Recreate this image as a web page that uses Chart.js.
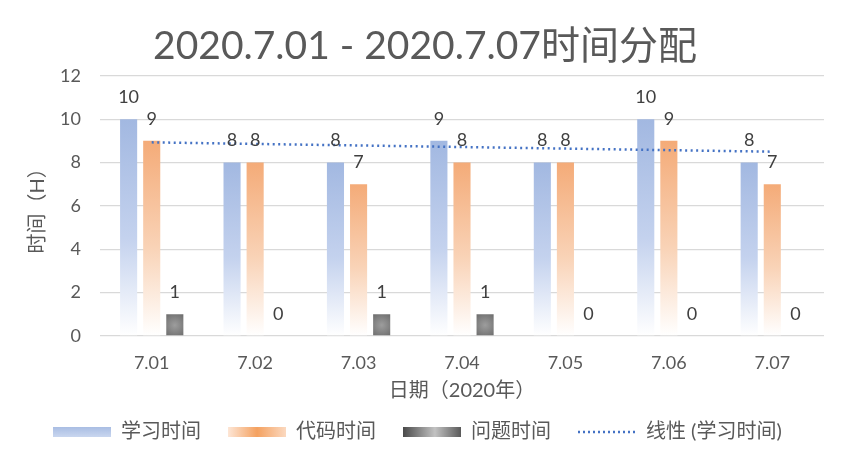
<!DOCTYPE html>
<html>
<head>
<meta charset="utf-8">
<title>2020.7.01 - 2020.7.07时间分配</title>
<script src="https://cdn.jsdelivr.net/npm/chart.js@4.4.1/dist/chart.umd.min.js"></script>
<style>
    html, body { margin: 0; padding: 0; background: #ffffff; }
    #wrap { width: 843px; height: 461px; }
</style>
</head>
<body>
<div id="wrap"><canvas id="timeChart"></canvas></div>
<script>
'use strict';

// data
const categories = ['7.01', '7.02', '7.03', '7.04', '7.05', '7.06', '7.07'];
const studyHours = [10, 8, 8, 9, 8, 10, 8];
const codeHours = [9, 8, 7, 8, 8, 9, 7];
const problemHours = [1, 0, 1, 1, 0, 0, 0];
// trend line end points as drawn (linear, 学习时间)
const studyTrend = [8.93, null, null, null, null, null, 8.5];
const yTicks = [0, 2, 4, 6, 8, 10, 12];

const FONT = "Lato, 'Noto Sans CJK SC', sans-serif";
const TEXT = '#595959';
const CAT_PCT = 0.67;
const BAR_PCT = 0.74;
const SWATCH_W = 58;
const SWATCH_GAP = 15;

/**
 * Vertical gradient running from the bar top down to the zero line
 */
function fadeToWhite(top, bottom) {
    return function(ctx) {
        const chart = ctx.chart;
        if (!chart.chartArea || ctx.type !== 'data') return top;
        const y = chart.scales.y;
        const y0 = y.getPixelForValue(ctx.raw);
        const y1 = y.getPixelForValue(0);
        if (y1 - y0 < 1) return top;
        const g = chart.ctx.createLinearGradient(0, y0, 0, y1);
        g.addColorStop(0, top);
        g.addColorStop(0.55, bottom[0]);
        g.addColorStop(1, bottom[1]);
        return g;
    };
}

/**
 * Dark grey bar, lighter in the middle
 */
function greyGradient(ctx) {
    const chart = ctx.chart;
    if (!chart.chartArea || ctx.type !== 'data') return '#6b6b6b';
    const x = chart.scales.x, y = chart.scales.y;
    const slot = (x.width / categories.length) * CAT_PCT / 3;
    const cx = x.getPixelForValue(ctx.dataIndex) + slot;
    const y0 = y.getPixelForValue(ctx.raw);
    const y1 = y.getPixelForValue(0);
    const cy = (y0 + y1) / 2;
    const g = chart.ctx.createRadialGradient(cx, cy, 0, cx, cy, Math.max(12, (y1 - y0)));
    g.addColorStop(0, '#9d9d9d');
    g.addColorStop(1, '#505050');
    return g;
}

/**
 * Small canvases used as legend swatches (blank strip on the left = item gap)
 */
function swatch(paint) {
    const c = document.createElement('canvas');
    c.width = SWATCH_W + SWATCH_GAP;
    c.height = 10;
    const g = c.getContext('2d');
    g.translate(SWATCH_GAP, 0);
    paint(g, SWATCH_W, c.height);
    return c;
}

const legendSwatches = [
    swatch(function(g, w, h) {
        const gr = g.createLinearGradient(0, 0, 0, h);
        gr.addColorStop(0, '#a9bde3');
        gr.addColorStop(1, '#c9d6ef');
        g.fillStyle = gr;
        g.fillRect(0, 0, w, h);
    }),
    swatch(function(g, w, h) {
        const gr = g.createLinearGradient(0, 0, w, 0);
        gr.addColorStop(0, '#fde6d6');
        gr.addColorStop(0.5, '#f4a160');
        gr.addColorStop(1, '#fbd9c0');
        g.fillStyle = gr;
        g.fillRect(0, 0, w, h);
    }),
    swatch(function(g, w, h) {
        const gr = g.createLinearGradient(0, 0, w, 0);
        gr.addColorStop(0, '#4a4a4a');
        gr.addColorStop(0.55, '#c2c2c2');
        gr.addColorStop(1, '#5a5a5a');
        g.fillStyle = gr;
        g.fillRect(0, 0, w, h);
    }),
    swatch(function(g, w, h) {
        g.strokeStyle = '#4472c4';
        g.lineWidth = 2.5;
        g.setLineDash([2, 3]);
        g.beginPath();
        g.moveTo(0, h / 2);
        g.lineTo(w, h / 2);
        g.stroke();
    })
];

/**
 * Value labels above each bar
 */
const barLabels = {
    id: 'barLabels',
    afterDatasetsDraw: function(chart) {
        const ctx = chart.ctx;
        ctx.save();
        ctx.font = '18px ' + FONT;
        ctx.fillStyle = '#404040';
        ctx.textAlign = 'center';
        ctx.textBaseline = 'middle';
        chart.data.datasets.forEach(function(ds, i) {
            if (ds.type === 'line') return;
            const meta = chart.getDatasetMeta(i);
            meta.data.forEach(function(bar, j) {
                ctx.fillText(String(ds.data[j]), bar.x, bar.y - 22);
            });
        });
        ctx.restore();
    }
};

const chart = new Chart(document.getElementById('timeChart'), {
    type: 'bar',
    data: {
        labels: categories,
        datasets: [
            {
                label: '学习时间',
                data: studyHours,
                backgroundColor: fadeToWhite('#a2b8e1', ['#c4d2ee', '#ffffff'])
            },
            {
                label: '代码时间',
                data: codeHours,
                backgroundColor: fadeToWhite('#f4ab78', ['#f9d3b7', '#ffffff'])
            },
            {
                label: '问题时间',
                data: problemHours,
                backgroundColor: greyGradient
            },
            {
                type: 'line',
                label: '线性 (学习时间)',
                data: studyTrend,
                spanGaps: true,
                borderColor: '#4472c4',
                borderWidth: 2.5,
                borderDash: [2, 3.5],
                pointRadius: 0,
                fill: false,
                order: -1
            }
        ]
    },
    options: {
        responsive: true,
        maintainAspectRatio: false,
        animation: false,
        datasets: {
            bar: { categoryPercentage: CAT_PCT, barPercentage: BAR_PCT }
        },
        layout: { padding: { left: 26, right: 19, top: 0, bottom: 9 } },
        plugins: {
            title: {
                display: true,
                text: '2020.7.01 - 2020.7.07时间分配',
                color: TEXT,
                font: { family: FONT, size: 39, weight: 'normal' },
                padding: { top: 23, bottom: 6 }
            },
            legend: {
                position: 'bottom',
                align: 'start',
                labels: {
                    color: TEXT,
                    font: { family: FONT, size: 20 },
                    usePointStyle: true,
                    pointStyleWidth: SWATCH_W + SWATCH_GAP,
                    padding: 12,
                    generateLabels: function(chart) {
                        return chart.data.datasets.map(function(ds, i) {
                            return {
                                text: ds.label,
                                pointStyle: legendSwatches[i],
                                fontColor: TEXT,
                                lineWidth: 0,
                                datasetIndex: i
                            };
                        });
                    }
                }
            },
            tooltip: { enabled: false }
        },
        scales: {
            x: {
                grid: { display: false, drawTicks: false },
                border: { display: false },
                ticks: { color: TEXT, font: { family: FONT, size: 18 }, padding: 16 },
                title: {
                    display: true,
                    text: '日期（2020年）',
                    color: TEXT,
                    font: { family: FONT, size: 20 },
                    padding: { top: 0, bottom: 7 }
                },
                afterFit: function(axis) { axis.height = 74; }
            },
            y: {
                min: yTicks[0],
                max: yTicks[yTicks.length - 1],
                afterBuildTicks: function(axis) {
                    axis.ticks = yTicks.map(function(v) { return { value: v }; });
                },
                grid: { color: '#d9d9d9', lineWidth: 1.3, drawTicks: false },
                border: { display: false },
                ticks: { color: TEXT, font: { family: FONT, size: 18 }, padding: 19 },
                title: {
                    display: true,
                    text: '时间（H）',
                    color: TEXT,
                    font: { family: FONT, size: 20 },
                    padding: { top: 0, bottom: 0 }
                },
                afterFit: function(axis) { axis.width = 74; }
            }
        }
    },
    plugins: [barLabels]
});
</script>
</body>
</html>
